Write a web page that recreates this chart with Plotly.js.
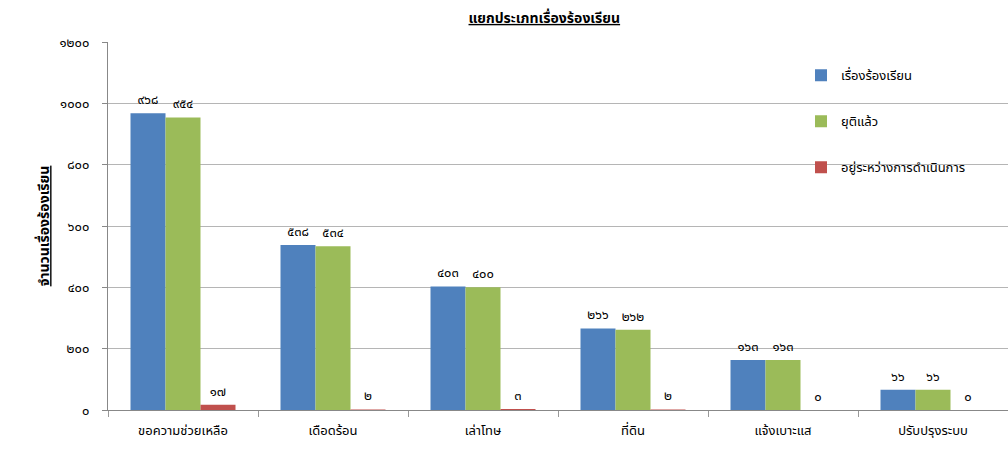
<!DOCTYPE html>
<html>
<head>
<meta charset="utf-8">
<script src="https://cdn.plot.ly/plotly-3.0.1.min.js"></script>
<style>html,body{margin:0;padding:0;background:#fff;}#chart{width:1008px;height:450px;}</style>
</head>
<body>
<div id="chart"></div>
<script>
const categories = ["ขอความช่วยเหลือ", "เดือดร้อน", "เล่าโทษ", "ที่ดิน", "แจ้งเบาะแส", "ปรับปรุงระบบ"];
const seriesNames = ["เรื่องร้องเรียน", "ยุติแล้ว", "อยู่ระหว่างการดำเนินการ"];
const complaints = [968, 538, 403, 266, 163, 66];
const resolved = [954, 534, 400, 262, 163, 66];
const inProgress = [17, 2, 3, 2, 0, 0];
const yTickVals = [0, 200, 400, 600, 800, 1000, 1200];

const thaiDigits = "๐๑๒๓๔๕๖๗๘๙";
function toThai(n) { return String(n).replace(/[0-9]/g, d => thaiDigits[+d]); }

const FONT = "Noto Sans Thai, Noto Sans, DejaVu Sans, sans-serif";
const colors = ["#4F81BD", "#9BBB59", "#C0504D"];
const series = [complaints, resolved, inProgress];

const traces = series.map((vals, i) => ({
  type: "bar",
  name: seriesNames[i],
  x: categories,
  y: vals,
  text: vals.map(toThai),
  textposition: "outside",
  cliponaxis: false,
  textfont: {family: FONT, size: 13, color: "#000"},
  marker: {color: colors[i]},
  legendgroup: "g" + i
}));

const layout = {
  width: 1008, height: 450,
  margin: {l: 108, r: 0, t: 42, b: 40},
  paper_bgcolor: "#fff", plot_bgcolor: "#fff",
  barmode: "group", bargap: 0.3, bargroupgap: 0,
  showlegend: true,
  title: {text: "<b><u>แยกประเภทเรื่องร้องเรียน</u></b>", x: 0.54, xanchor: "center", y: 0.96, yanchor: "middle",
          font: {family: FONT, size: 14, color: "#000"}},
  legend: {x: 0.77, xanchor: "left", y: 0.95, yanchor: "top", tracegroupgap: 26,
           font: {family: FONT, size: 13, color: "#000"}, bgcolor: "rgba(0,0,0,0)"},
  xaxis: {showgrid: false, showline: true, linecolor: "#888", ticks: "outside", tickson: "boundaries", ticklen: 6,
          tickcolor: "#999", ticklabelstandoff: 8, tickfont: {family: FONT, size: 13, color: "#000"}},
  yaxis: {range: [0, 1200], tickvals: yTickVals, ticktext: yTickVals.map(toThai), showgrid: true, gridcolor: "#b5b5b5",
          showline: true, linecolor: "#888", ticks: "outside", ticklen: 5, tickcolor: "#888", zeroline: false,
          tickfont: {family: FONT, size: 13, color: "#000"}, ticklabelstandoff: 10,
          title: {text: "<b><u>จำนวนเรื่องร้องเรียน</u></b>", standoff: 6, font: {family: FONT, size: 14, color: "#000"}}},
  font: {family: FONT}
};

Plotly.newPlot("chart", traces, layout, {staticPlot: true});
</script>
</body>
</html>
